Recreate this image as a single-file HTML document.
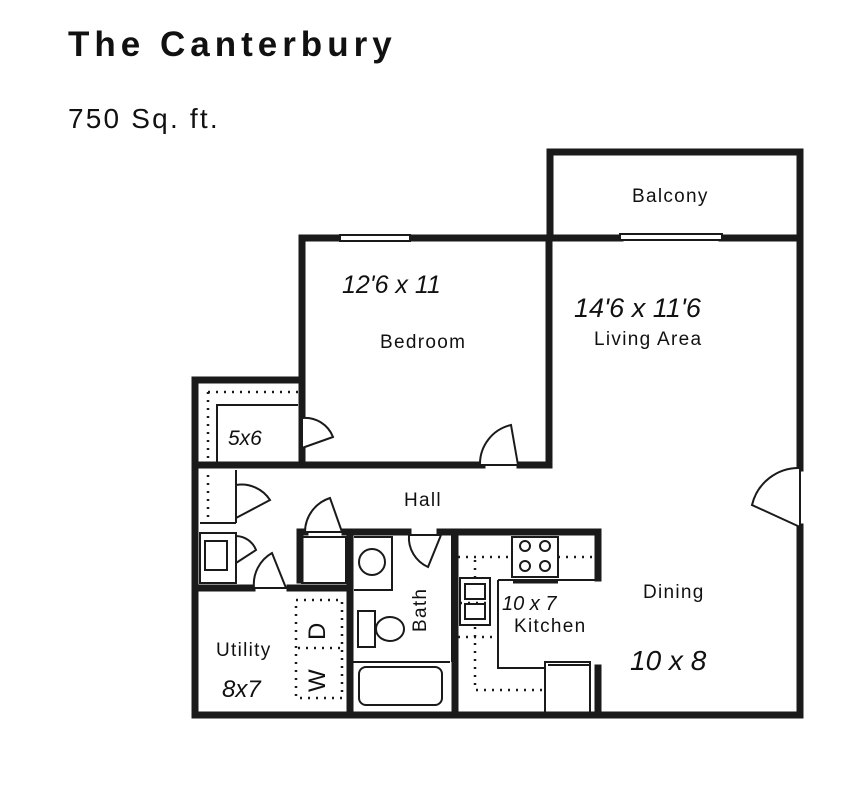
<!DOCTYPE html>
<html><head><style>
body{margin:0;background:#fff;}
svg{display:block}
text{font-family:"Liberation Sans",sans-serif;fill:#111}
.h{font-family:"Liberation Sans",sans-serif;font-style:italic}
</style></head><body>
<svg width="846" height="796" viewBox="0 0 846 796" xmlns="http://www.w3.org/2000/svg">
<text x="68" y="56" font-size="35" font-weight="bold" letter-spacing="5">The Canterbury</text>
<text x="68" y="128" font-size="28" fill="#333" letter-spacing="2.2">750 Sq. ft.</text>
<g stroke="#1a1a1a" stroke-width="7" fill="none" stroke-linecap="square">
<path d="M550,237 V152 H800 V237"/>
<path d="M302,238 H340 M410,238 H620 M722,238 H800"/>
<path d="M800,237 V468 M800,527 V715"/>
<path d="M195,715 H800"/>
<path d="M195,380 V715"/>
<path d="M195,380 H302"/>
<path d="M302,238 V465"/>
<path d="M549,238 V465"/>
<path d="M195,465 H482 M520,465 H549"/>
<path d="M300,532 V580 M300,532 H305 M345,532 H408 M440,532 H598 V578"/>
<path d="M195,588 H252 M290,588 H350"/>
<path d="M350,532 V715"/>
<path d="M455,532 V715"/>
<path d="M598,668 V715"/>
</g>
<g stroke="#1a1a1a" stroke-width="2" fill="none">
<rect x="340" y="235" width="70" height="6" fill="#fff"/>
<rect x="620" y="234" width="102" height="6" fill="#fff"/>
<path d="M217,465 V405 H298"/>
<path d="M236,470 V523 M200,523 H236"/>
<rect x="200" y="533" width="36" height="50"/>
<rect x="205" y="541" width="22" height="29"/>
<path d="M302,537 H346 V583 H302 Z"/>
<path d="M354,537 H392 V590 H354"/>
<circle cx="372" cy="562" r="13"/>
<rect x="358" y="611" width="17" height="36"/>
<ellipse cx="390" cy="629" rx="14" ry="12"/>
<path d="M352,662 H450"/>
<path d="M452,535 V662"/>
<rect x="359" y="667" width="83" height="38" rx="7"/>
<path d="M498,580 H598 M498,580 V668 H545"/>
<rect x="512" y="537" width="46" height="40"/>
<circle cx="525" cy="546" r="5"/><circle cx="545" cy="546" r="5"/>
<circle cx="525" cy="566" r="5"/><circle cx="545" cy="566" r="5"/>
<path d="M513,582 H558" stroke-width="3"/>
<rect x="460" y="578" width="30" height="47"/>
<rect x="465" y="584" width="20" height="15"/><rect x="465" y="604" width="20" height="15"/>
<path d="M545,715 V662 H590 V715"/>
<path d="M548,665 H590"/>
</g>
<g stroke="#1a1a1a" stroke-width="2.5" fill="none" stroke-dasharray="2 6">
<path d="M208,392 H298 M208,392 V462"/>
<path d="M208,475 V520"/>
<rect x="296" y="600" width="46" height="98"/>
<path d="M298,648 H342"/>
<path d="M460,603 H490 M458,557 H512 M558,557 H596"/>
<path d="M475,560 V578 M475,627 V690 H545 M458,637 H497"/>
</g>
<g stroke="#1a1a1a" stroke-width="2" fill="#fff">
<path d="M302,448 L333,437 A30,30 0 0 0 302,418 Z"/>
<path d="M518,465 L511,425 A40,40 0 0 0 480,465 Z"/>
<path d="M800,527 L752,505 A48,48 0 0 1 800,468 Z"/>
<path d="M236,518 L270,500 A34,34 0 0 0 236,485 Z"/>
<path d="M236,563 L256,550 A22,22 0 0 0 236,536 Z"/>
<path d="M342,532 L330,498 A36,36 0 0 0 305,532 Z"/>
<path d="M286,588 L272,553 A36,36 0 0 0 254,588 Z"/>
<path d="M441,535 L428,567 A32,32 0 0 1 409,535 Z"/>
</g>
<g font-size="19" letter-spacing="1.3">
<text x="632" y="202">Balcony</text>
<text x="380" y="348">Bedroom</text>
<text x="594" y="345">Living Area</text>
<text x="404" y="506">Hall</text>
<text x="643" y="598">Dining</text>
<text x="514" y="632">Kitchen</text>
<text x="216" y="656">Utility</text>
<text x="0" y="0" transform="translate(426,632) rotate(-90)">Bath</text>
<text x="0" y="0" font-size="24" transform="translate(325,640) rotate(-90)">D</text>
<text x="0" y="0" font-size="24" transform="translate(325,692) rotate(-90)">W</text>
</g>
<g class="h" font-size="25" fill="#111">
<text x="342" y="293" class="h">12'6 x 11</text>
<text x="574" y="317" class="h" font-size="27">14'6 x 11'6</text>
<text x="228" y="445" class="h" font-size="21">5x6</text>
<text x="502" y="610" class="h" font-size="20">10 x 7</text>
<text x="630" y="670" class="h" font-size="28">10 x 8</text>
<text x="222" y="697" class="h" font-size="24">8x7</text>
</g>
</svg>
</body></html>
